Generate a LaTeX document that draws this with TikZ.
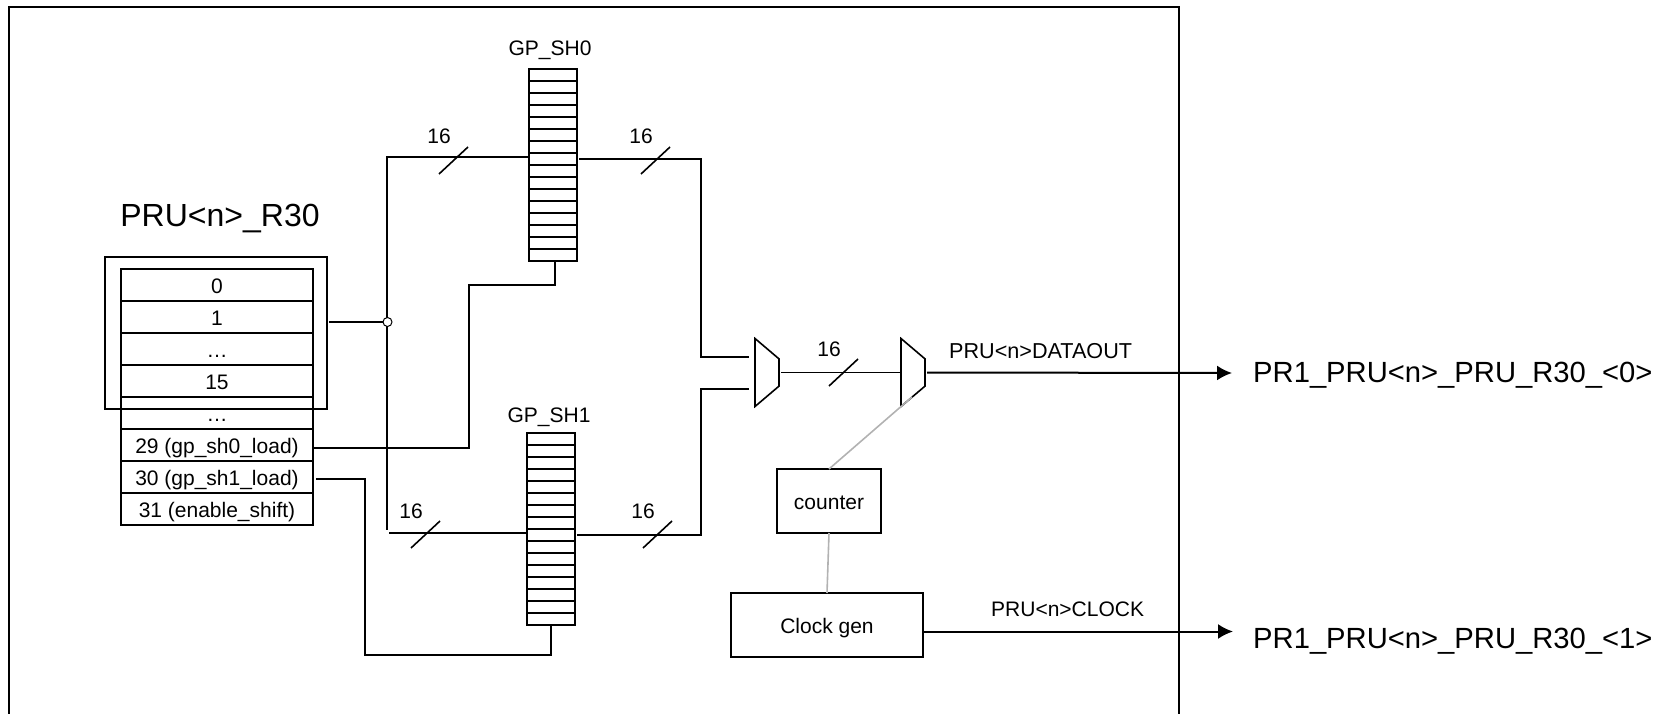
\documentclass[tikz,border=0pt]{standalone}
\usepackage{fontspec}
\setmainfont{Liberation Sans}
\usetikzlibrary{shapes.geometric, arrows.meta, positioning}

\begin{document}
\begin{tikzpicture}[
  x=1pt, y=-1pt,
  node distance=0pt,
  smalltext/.style={font=\fontsize{21}{25}\selectfont},
  lbl/.style={smalltext, inner sep=0pt, anchor=base},
  biglbl/.style={lbl, anchor=base west, font=\fontsize{29.2}{35}\selectfont},
  box/.style={draw, line width=1.6pt, inner sep=0pt, outer sep=0pt, align=center, smalltext,
              text height=19pt, text depth=3pt},
  cellbox/.style={box, minimum width=192pt, minimum height=32pt},
  shbox/.style={draw, line width=1.6pt, inner sep=0pt, outer sep=0pt, minimum width=48pt, minimum height=192pt},
  muxbox/.style={draw, line width=1.6pt, trapezium, trapezium stretches=true, trapezium left angle=54.7,
                 trapezium right angle=54.7, minimum width=68pt, minimum height=24pt,
                 inner sep=0pt, outer sep=0pt, rotate=-90, font=\tiny},
  wire/.style={line width=1.6pt},
  bigwire/.style={line width=2pt},
  greywire/.style={line width=1.6pt, color=black!30},
  arr/.style={bigwire, -{Latex[length=15pt, width=15pt]}},
]
\useasboundingbox (0,0) rectangle (1668,714);

%% --- Frame, open at the bottom ---
\coordinate (frameleft)  at (9,714);
\coordinate (frameright) at (1179,714);
\coordinate (frametop)   at (9,7);
\draw[bigwire] (frameleft) -- (frametop) -| (frameright);

%% --- Register ---
\node[cellbox] (cellzero) at (217,285) {0};
\node[cellbox, below=of cellzero]  (cellone)  {1};
\node[cellbox, below=of cellone]   (celldots) {…};
\node[cellbox, below=of celldots]  (cellfift) {15};
\node[cellbox, below=of cellfift]  (cellmore) {…};
\node[cellbox, below=of cellmore]  (cellload) {29 (gp\_sh0\_load)};
\node[cellbox, below=of cellload]  (cellnext) {30 (gp\_sh1\_load)};
\node[cellbox, below=of cellnext]  (cellen)   {31 (enable\_shift)};
\node[draw, line width=2.2pt, inner sep=0pt, outer sep=0pt, minimum width=222pt, minimum height=152pt] (regbox) at (216,333) {};
\node[lbl, font=\fontsize{32}{38}\selectfont] (regname) at (220,226) {PRU<n>\_R30};

%% --- Shift registers ---
\node[shbox] (shzero) at (553,165) {};
\node[shbox] (shone)  at (551,529) {};
\foreach \sh in {shzero,shone}
  \foreach \i in {1,...,15}
    \draw[wire] ([yshift=-\i*12pt]\sh.north west) -- ([yshift=-\i*12pt]\sh.north east);
\node[lbl] (shzeroname) at (550,56)  {GP\_SH0};
\node[lbl] (shonename)  at (549,422) {GP\_SH1};

%% --- Muxes, counter, clock ---
\node[muxbox] (muxa) at (767,372.5) {\phantom{x}};
\node[muxbox] (muxb) at (913,372.5) {\phantom{x}};
\node[box, minimum width=104pt, minimum height=64pt] (counter) at (829,501) {counter};
\node[box, minimum width=192pt, minimum height=64pt, below=60pt of counter, xshift=-2pt] (clockgen) {Clock gen};

%% --- Bus from the register ---
\coordinate (bustop) at (387,157);
\coordinate (busbot) at (387,530);
\coordinate (shonein) at (389,533);
\draw[wire] (shzero.west |- bustop) -- (bustop) -- (busbot);
\draw[wire] (shonein) -- (shone.west |- shonein);
\node[circle, draw, fill=white, line width=1pt, inner sep=0pt, minimum size=9pt] (busdot) at (387.5,322) {};
\draw[wire] ([xshift=2pt]regbox.east |- busdot) -- (busdot);

%% --- Load lines ---
\coordinate (loadzeroa) at (469,448);
\coordinate (loadzerob) at (555,285);
\draw[wire] (cellload.east |- loadzeroa) -- (loadzeroa) |- (loadzerob) -- (loadzerob |- shzero.south);
\coordinate (loadonea) at (365,479);
\coordinate (loadoneb) at (551,655);
\draw[wire] ([xshift=3pt]cellnext.east |- loadonea) -- (loadonea) |- (loadoneb) -- (shone.south);

%% --- Shift outputs into the first mux ---
\coordinate (shzeroout) at (579,159);
\coordinate (joinzero)  at (701,357);
\coordinate (muxaupper) at (749,357);
\coordinate (shoneout)  at (577,535);
\coordinate (joinone)   at (701,389);
\coordinate (muxalower) at (749,389);
\draw[wire] (shzeroout) -| (joinzero) -- (muxaupper);
\draw[wire] (shoneout) -| (joinone) -- (muxalower);
\draw[wire] ([xshift=2pt]muxa.north) -- (muxb.south);

%% --- Bus widths ---
\node[lbl] (widthone)   at (439,144) {16};
\node[lbl] (widthtwo)   at (641,144) {16};
\node[lbl] (widththree) at (411,518) {16};
\node[lbl] (widthfour)  at (643,518) {16};
\node[lbl] (widthfive)  at (829,356) {16};
\foreach \w in {widthone,widthtwo,widththree,widthfour,widthfive}
  \draw[wire] (\w.base) ++(0,30) -- ++(29,-27);

%% --- Clock path ---
\coordinate (muxtap) at (912,397);
\draw[greywire] (muxtap) -- (counter.north);
\draw[greywire] (counter.south) -- (clockgen.north);

%% --- Outputs ---
\coordinate (datatip)  at (1232,373);
\coordinate (clocktip) at (1233,631.5);
\draw[arr] ([xshift=2pt]muxb.north) -- (datatip);
\draw[arr] (clockgen.east |- clocktip) -- (clocktip);
\node[lbl, anchor=base west, font=\fontsize{21.6}{26}\selectfont] (dataname) at (949,358) {PRU<n>DATAOUT};
\node[lbl, anchor=base west] (clockname) at (991,616) {PRU<n>CLOCK};
\node[biglbl] (outzero) at (1253,382) {PR1\_PRU<n>\_PRU\_R30\_<0>};
\node[biglbl] (outone)  at (1253,648) {PR1\_PRU<n>\_PRU\_R30\_<1>};
\end{tikzpicture}
\end{document}
